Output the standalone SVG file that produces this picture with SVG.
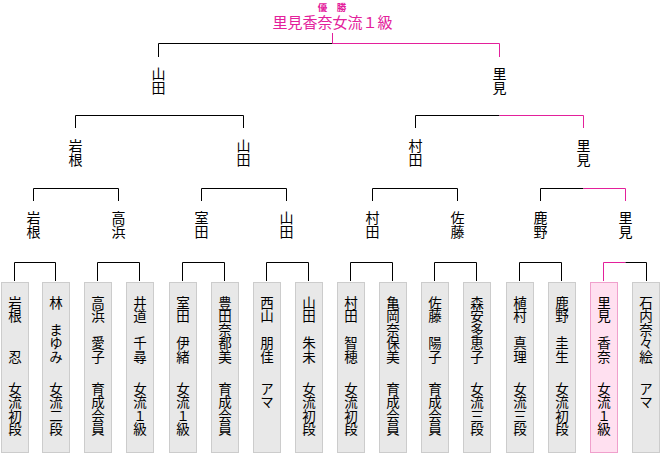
<svg xmlns="http://www.w3.org/2000/svg" width="660" height="454" viewBox="0 0 660 454">
<style>
text{font-family:"Noto Sans CJK JP","Noto Sans CJK SC",sans-serif;fill:#000}
.v{writing-mode:vertical-rl;text-orientation:upright;font-size:13.5px}
.lb{writing-mode:vertical-rl;text-orientation:upright;font-size:14px}
.t1{font-size:9.5px;font-weight:bold;fill:#e3209b;text-anchor:middle}
.t2{font-size:15px;fill:#e3209b;text-anchor:middle}
.box{fill:#e8e8e8;stroke:#cccccc;stroke-width:1}
.pbox{fill:#ffe0f0;stroke:#f0a0cc;stroke-width:1}
.k{fill:none;stroke:#000;stroke-width:1}
.p{fill:none;stroke:#e3209b;stroke-width:1}
</style>
<g id="title">
<text class="t1" x="332" y="11">優　勝</text>
<text class="t2" x="332.5" y="27.5">里見香奈女流１級</text>
</g>
<g id="connectors">
<path class="k" d="M158.5,57V43.5H332.5"/>
<path class="p" d="M332.5,33V43.5H499.5V57"/>
<path class="k" d="M75.5,128V115.5H243.5V128"/>
<path class="k" d="M415.5,128V115.5H499.5"/>
<path class="p" d="M499.5,115.5H583.5V128"/>
<path class="k" d="M33.5,201V188.5H118.5V201"/>
<path class="k" d="M201.5,201V188.5H286.5V201"/>
<path class="k" d="M372.5,201V188.5H457.5V201"/>
<path class="k" d="M540.5,201V188.5H583.5"/>
<path class="p" d="M583.5,188.5H625.5V201"/>
<path class="k" d="M14.5,281V262.5H55.5V281"/>
<path class="k" d="M97.5,281V262.5H139.5V281"/>
<path class="k" d="M182.5,281V262.5H224.5V281"/>
<path class="k" d="M266.5,281V262.5H308.5V281"/>
<path class="k" d="M350.5,281V262.5H392.5V281"/>
<path class="k" d="M434.5,281V262.5H476.5V281"/>
<path class="k" d="M519.5,281V262.5H561.5V281"/>
<path class="p" d="M603.5,281V262.5H625.5"/>
<path class="k" d="M625.5,262.5H646.5V281"/>
</g>
<g id="r1-yamada"><text class="lb" x="158.5" y="67">山田</text></g>
<g id="r1-satomi"><text class="lb" x="499.5" y="67">里見</text></g>
<g id="r2-iwane"><text class="lb" x="75.5" y="139">岩根</text></g>
<g id="r2-yamada"><text class="lb" x="243.5" y="139">山田</text></g>
<g id="r2-murata"><text class="lb" x="415.5" y="139">村田</text></g>
<g id="r2-satomi"><text class="lb" x="583.5" y="139">里見</text></g>
<g id="r3-iwane"><text class="lb" x="33.5" y="211">岩根</text></g>
<g id="r3-takahama"><text class="lb" x="118.5" y="211">高浜</text></g>
<g id="r3-murota"><text class="lb" x="201.5" y="211">室田</text></g>
<g id="r3-yamada"><text class="lb" x="286.5" y="211">山田</text></g>
<g id="r3-murata"><text class="lb" x="372.5" y="211">村田</text></g>
<g id="r3-sato"><text class="lb" x="457.5" y="211">佐藤</text></g>
<g id="r3-kano"><text class="lb" x="540.5" y="211">鹿野</text></g>
<g id="r3-satomi"><text class="lb" x="625.5" y="211">里見</text></g>
<g id="p1"><rect class="box" x="1.5" y="282.5" width="27" height="170"/><text class="v" x="15" y="296">岩根　　忍</text><text class="v" x="15" y="382">女流初段</text></g>
<g id="p2"><rect class="box" x="42.5" y="282.5" width="27" height="170"/><text class="v" x="56" y="296">林　まゆみ</text><text class="v" x="56" y="382">女流二段</text></g>
<g id="p3"><rect class="box" x="84.5" y="282.5" width="27" height="170"/><text class="v" x="98" y="296">高浜　愛子</text><text class="v" x="98" y="382">育成会員</text></g>
<g id="p4"><rect class="box" x="126.5" y="282.5" width="27" height="170"/><text class="v" x="140" y="296">井道　千尋</text><text class="v" x="140" y="382">女流１級</text></g>
<g id="p5"><rect class="box" x="169.5" y="282.5" width="27" height="170"/><text class="v" x="183" y="296">室田　伊緒</text><text class="v" x="183" y="382">女流１級</text></g>
<g id="p6"><rect class="box" x="211.5" y="282.5" width="27" height="170"/><text class="v" x="225" y="296">豊田奈都美</text><text class="v" x="225" y="382">育成会員</text></g>
<g id="p7"><rect class="box" x="253.5" y="282.5" width="27" height="170"/><text class="v" x="267" y="296">西山　朋佳</text><text class="v" x="267" y="382">アマ</text></g>
<g id="p8"><rect class="box" x="295.5" y="282.5" width="27" height="170"/><text class="v" x="309" y="296">山田　朱未</text><text class="v" x="309" y="382">女流初段</text></g>
<g id="p9"><rect class="box" x="337.5" y="282.5" width="27" height="170"/><text class="v" x="351" y="296">村田　智穂</text><text class="v" x="351" y="382">女流初段</text></g>
<g id="p10"><rect class="box" x="379.5" y="282.5" width="27" height="170"/><text class="v" x="393" y="296">亀岡奈保美</text><text class="v" x="393" y="382">育成会員</text></g>
<g id="p11"><rect class="box" x="421.5" y="282.5" width="27" height="170"/><text class="v" x="435" y="296">佐藤　陽子</text><text class="v" x="435" y="382">育成会員</text></g>
<g id="p12"><rect class="box" x="463.5" y="282.5" width="27" height="170"/><text class="v" x="477" y="296">森安多恵子</text><text class="v" x="477" y="382">女流三段</text></g>
<g id="p13"><rect class="box" x="506.5" y="282.5" width="27" height="170"/><text class="v" x="520" y="296">植村　真理</text><text class="v" x="520" y="382">女流三段</text></g>
<g id="p14"><rect class="box" x="548.5" y="282.5" width="27" height="170"/><text class="v" x="562" y="296">鹿野　圭生</text><text class="v" x="562" y="382">女流初段</text></g>
<g id="p15"><rect class="pbox" x="590.5" y="282.5" width="27" height="170"/><text class="v" x="604" y="296">里見　香奈</text><text class="v" x="604" y="382">女流１級</text></g>
<g id="p16"><rect class="box" x="632.5" y="282.5" width="27" height="170"/><text class="v" x="646" y="296">石内奈々絵</text><text class="v" x="646" y="382">アマ</text></g>
</svg>
